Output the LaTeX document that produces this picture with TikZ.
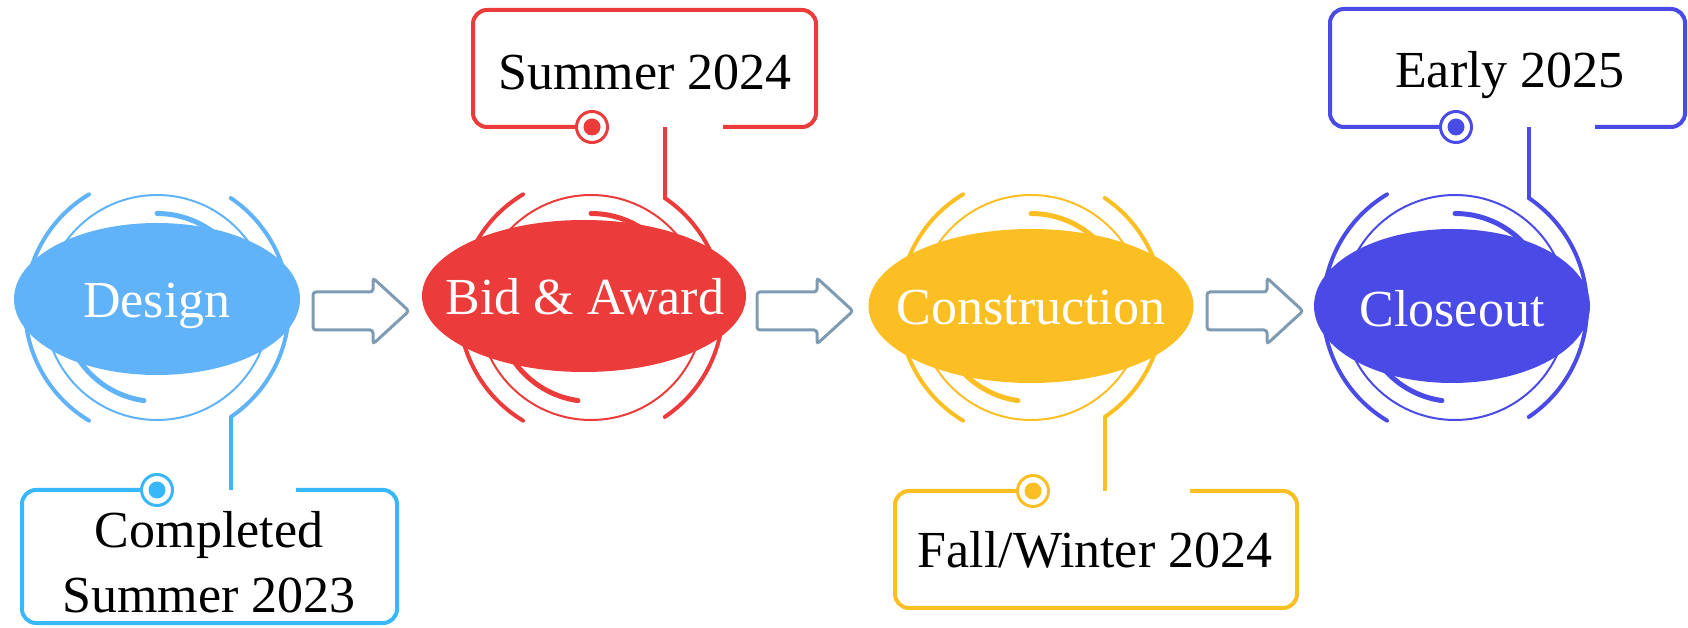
\documentclass[tikz,border=0pt]{standalone}
\usepackage{fontspec}
\setmainfont{Liberation Serif}
\definecolor{designblue}{RGB}{96,178,249}
\definecolor{noteblue}{RGB}{56,184,250}
\definecolor{bidred}{RGB}{235,59,59}
\definecolor{buildgold}{RGB}{251,191,36}
\definecolor{closeindigo}{RGB}{74,74,230}
\definecolor{arrowgray}{RGB}{127,155,178}

\begin{document}
\begin{tikzpicture}
        [x=0.5pt,y=0.5pt,
         outer arc/.style={line width=2pt,line cap=round},
         inner arc/.style={line width=2.5pt,line cap=round},
         callout/.style={line width=2pt,rounded corners=7pt},
         hook/.style={line width=1.8pt},
         pin/.style={circle,draw,fill=white,line width=1.5pt,minimum size=15.5pt,inner sep=0pt},
         stagetext/.style={anchor=base,text=white,font=\fontsize{26}{32}\selectfont},
         datetext/.style={anchor=base,align=center,font=\fontsize{26}{32}\selectfont},
         stage/.pic={
           \draw[line width=1pt] (0,0) circle (112.5);
           \draw[outer arc] (121:132) arc (121:239:132);
           \draw[outer arc] (-56:132) arc (-56:56:132);
           \draw[inner arc] (90:94) arc (90:10:94);
           \draw[inner arc] (262:94) arc (262:190:94);
           \coordinate (-up) at (56:132);
           \coordinate (-down) at (-56:132);
         },
         flow/.pic={
           \draw[arrowgray,line width=1.5pt,rounded corners=1.5pt]
             (0,-19) -- (60,-19) -- (60,-33) -- (96,0) -- (60,33) -- (60,19) -- (0,19) -- cycle;
         }]
        \useasboundingbox (0,0) rectangle (1688,627);

        % stages
        \begin{scope}[designblue]
          \pic (designring) at (157,319.5) {stage};
          \fill (157,328) ellipse [x radius=143,y radius=76];
          \node[stagetext] (design) at (157,309) {Design};
        \end{scope}
        \begin{scope}[bidred]
          \pic (bidring) at (591,319.5) {stage};
          \fill (584,331) ellipse [x radius=162,y radius=76];
          \node[stagetext] (bid) at (585,312) {Bid \& Award};
        \end{scope}
        \begin{scope}[buildgold]
          \pic (buildring) at (1031,319.5) {stage};
          \fill (1031,321) ellipse [x radius=162.5,y radius=77];
          \node[stagetext] (build) at (1031,302) {Construction};
        \end{scope}
        \begin{scope}[closeindigo]
          \pic (closering) at (1455,319.5) {stage};
          \fill (1452,321) ellipse [x radius=138,y radius=77];
          \node[stagetext] (close) at (1452,300) {Closeout};
        \end{scope}

        \pic at (313,316) {flow};
        \pic at (757,316) {flow};
        \pic at (1207,316) {flow};

        % date callouts
        \begin{scope}[noteblue]
          \node[pin] (designpin) at (157,137) {};
          \fill (designpin) circle (8.5);
          \draw[callout] (designpin.west) -- (22,137) -- (22,4) -- (397,4) -- (397,137) -- (296,137);
          \draw[hook] (designring-down) -- (designring-down |- designpin);
          \node[datetext,text=black] (designdate) at (209,15) {Completed\\Summer 2023};
        \end{scope}
        \begin{scope}[bidred]
          \node[pin] (bidpin) at (592,500) {};
          \fill (bidpin) circle (8.5);
          \draw[callout] (bidpin.west) -- (473,500) -- (473,617) -- (816,617) -- (816,500) -- (723,500);
          \draw[hook] (bidring-up) -- (bidring-up |- bidpin);
          \node[datetext,text=black] (biddate) at (645,537) {Summer 2024};
        \end{scope}
        \begin{scope}[buildgold]
          \node[pin] (buildpin) at (1033,136) {};
          \fill (buildpin) circle (8.5);
          \draw[callout] (buildpin.west) -- (895,136) -- (895,19) -- (1297,19) -- (1297,136) -- (1190,136);
          \draw[hook] (buildring-down) -- (buildring-down |- buildpin);
          \node[datetext,text=black] (builddate) at (1095,59) {Fall/Winter 2024};
        \end{scope}
        \begin{scope}[closeindigo]
          \node[pin] (closepin) at (1456,500) {};
          \fill (closepin) circle (8.5);
          \draw[callout] (closepin.west) -- (1330,500) -- (1330,618) -- (1685,618) -- (1685,500) -- (1595,500);
          \draw[hook] (closering-up) -- (closering-up |- closepin);
          \node[datetext,text=black] (closedate) at (1510,539) {Early 2025};
        \end{scope}
    \end{tikzpicture}
\end{document}
